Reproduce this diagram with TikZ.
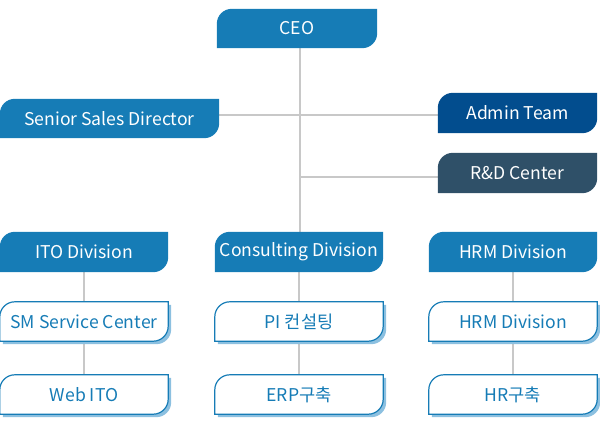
\documentclass[tikz,border=0pt]{standalone}
\usepackage{fontspec}
\setmainfont{Noto Sans CJK KR}
\usetikzlibrary{backgrounds}
\definecolor{orgblue}{HTML}{167CB6}
\definecolor{admblue}{HTML}{024D8E}
\definecolor{rndblue}{HTML}{2F5068}
\definecolor{shadeblue}{HTML}{8CC0E0}
\definecolor{linkgray}{HTML}{C8C8C8}
% tab outline: round top left and bottom right corners
\newcommand{\tabpath}[2]{([shift={#2}]#1.south west) -- ([shift={#2},yshift=-15pt]#1.north west) arc[start angle=180, end angle=90, radius=15pt] -- ([shift={#2}]#1.north east) -- ([shift={#2},yshift=15pt]#1.south east) arc[start angle=0, end angle=-90, radius=15pt] -- cycle}

\begin{document}
\begin{tikzpicture}[x=1pt, y=1pt,
    head/.style={minimum width=168pt, minimum height=40pt, inner sep=0pt, text=white, font=\fontsize{17.6}{20}\selectfont},
    unit/.style={head, minimum height=39pt, text=orgblue},
    link/.style={draw=linkgray, line width=1.8pt}]
      \useasboundingbox (0,0) rectangle (600,-439);
      \node[head, minimum width=160pt, minimum height=39pt] (ceo) at (297,-28.5) {CEO};
      \node[head, minimum width=219pt, minimum height=39pt] (ssd) at (109.5,-118.5) {Senior Sales Director};
      \node[head, minimum width=159pt] (admin) at (517.5,-113) {Admin Team};
      \node[head, minimum width=159pt] (rnd) at (517.5,-173) {R\&D Center};
      \node[head] (ito) at (84,-252) {ITO Division};
      \node[head] (cons) at (299,-252) {Consulting Division};
      \node[head] (hrm) at (513,-252) {HRM Division};
      \node[unit] (smc) at (84,-321.5) {SM Service Center};
      \node[unit] (pi) at (299,-321.5) {PI 컨설팅};
      \node[unit] (hrmd) at (513,-321.5) {HRM Division};
      \node[unit] (web) at (84,-394.5) {Web ITO};
      \node[unit] (erp) at (299,-394.5) {ERP구축};
      \node[unit] (hr) at (513,-394.5) {HR구축};
      \coordinate (j1) at (300,-115);
      \coordinate (j2) at (300,-177);

      \begin{scope}[on background layer]
        \draw[link] (ceo.south -| j1) -- (cons.north -| j1);
        \draw[link] (ssd.east |- j1) -- (admin.west |- j1);
        \draw[link] (j2) -- (rnd.west |- j2);
        \foreach \a/\b in {ito/smc, smc/web, cons/pi, pi/erp, hrm/hrmd, hrmd/hr}
          \draw[link] (\a) -- (\b);
        \foreach \n in {ceo, ssd, ito, cons, hrm}
          \fill[orgblue] \tabpath{\n}{(0,0)};
        \fill[admblue] \tabpath{admin}{(0,0)};
        \fill[rndblue] \tabpath{rnd}{(0,0)};
        \foreach \n in {smc, pi, hrmd, web, erp, hr} {
          \fill[shadeblue] \tabpath{\n}{(3pt,-3pt)};
          \draw[orgblue, line width=1.2pt, fill=white] \tabpath{\n}{(0,0)};
        }
      \end{scope}
\end{tikzpicture}
\end{document}
